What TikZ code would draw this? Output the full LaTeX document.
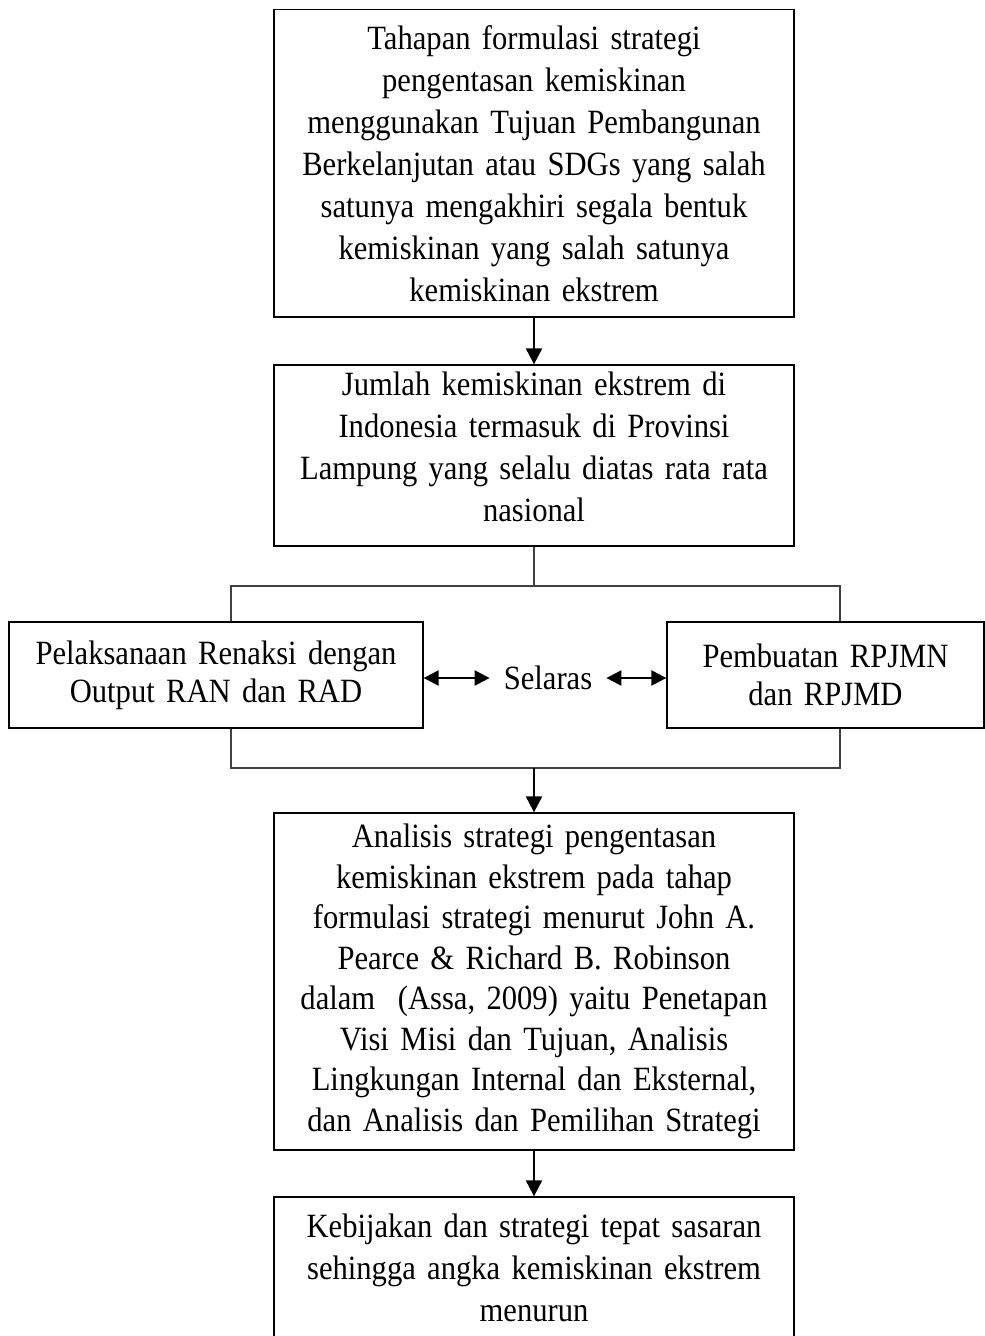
\documentclass[tikz,border=0pt]{standalone}
\usepackage{fontspec}
\setmainfont{Liberation Serif}[FakeStretch=0.9,WordSpace=0.8]
\usetikzlibrary{arrows.meta}
\begin{document}
\begin{tikzpicture}[x=1pt,y=-1pt,
  font=\fontsize{34}{42}\selectfont,
  box/.style={draw=black, line width=1.3pt, align=center, inner sep=0pt},
  ln/.style={draw=black!75, line width=1.3pt},
  arr/.style={draw=black, line width=2pt, -{Triangle[length=16pt,width=16pt]}},
  darr/.style={draw=black, line width=2.2pt, {Triangle[length=15pt,width=15pt]}-{Triangle[length=15pt,width=15pt]}}]
\useasboundingbox (0,0) rectangle (985,1336);
\fill[white] (0,0) rectangle (985,1336);

\node[box, minimum width=520pt, minimum height=307.5pt, text width=510pt] (b1) at (534,163.25)
  {Tahapan formulasi strategi\\ pengentasan kemiskinan\\ menggunakan Tujuan Pembangunan\\ Berkelanjutan atau SDGs yang salah\\ satunya mengakhiri segala bentuk\\ kemiskinan yang salah satunya\\ kemiskinan ekstrem};

\node[box, minimum width=520pt, minimum height=181pt, text width=510pt] (b2) at (534,455.5)
  {Jumlah kemiskinan ekstrem di\\ Indonesia termasuk di Provinsi\\ Lampung yang selalu diatas rata rata\\ nasional\\[-24pt]\mbox{}};

\node[box, minimum width=414pt, minimum height=106pt, text width=404pt,
  font=\fontsize{34}{38}\selectfont] (lft) at (216,675)
  {Pelaksanaan Renaksi dengan\\ Output RAN dan RAD};

\node[box, minimum width=317pt, minimum height=106pt, text width=307pt,
  font=\fontsize{34}{38}\selectfont] (rgt) at (825.5,675)
  {Pembuatan RPJMN\\ dan RPJMD};

\node[inner xsep=14pt, inner ysep=0pt] (sel) at (548,678) {Selaras};

\node[box, minimum width=520pt, minimum height=337pt, text width=510pt,
  font=\fontsize{34}{40.5}\selectfont] (b4) at (534,981.5)
  {Analisis strategi pengentasan\\ kemiskinan ekstrem pada tahap\\ formulasi strategi menurut John A.\\ Pearce \& Richard B. Robinson\\ dalam\ \ (Assa, 2009) yaitu Penetapan\\ Visi Misi dan Tujuan, Analisis\\ Lingkungan Internal dan Eksternal,\\ dan Analisis dan Pemilihan Strategi};

\node[box, minimum width=520pt, minimum height=142pt, text width=510pt] (b5) at (534,1268)
  {Kebijakan dan strategi tepat sasaran\\ sehingga angka kemiskinan ekstrem\\ menurun};

% connectors
\draw[arr] (b1) -- (b2);

\coordinate (j1) at (534,586);
\coordinate (tl) at (231,586);
\coordinate (tr) at (840,586);
\draw[ln] (b2.south) -- (j1);
\draw[ln] (tl |- lft.north) -- (tl) -- (tr) -- (tr |- rgt.north);

\coordinate (bl) at (231,768);
\coordinate (br) at (840,768);
\coordinate (j2) at (534,768);
\draw[ln] (bl |- lft.south) -- (bl) -- (br) -- (br |- rgt.south);
\draw[arr] (j2) -- (b4);

\draw[darr] (sel.west -| lft.east) -- (sel.west);
\draw[darr] (sel.east) -- (sel.east -| rgt.west);

\draw[arr] (b4) -- (b5);
\end{tikzpicture}
\end{document}
